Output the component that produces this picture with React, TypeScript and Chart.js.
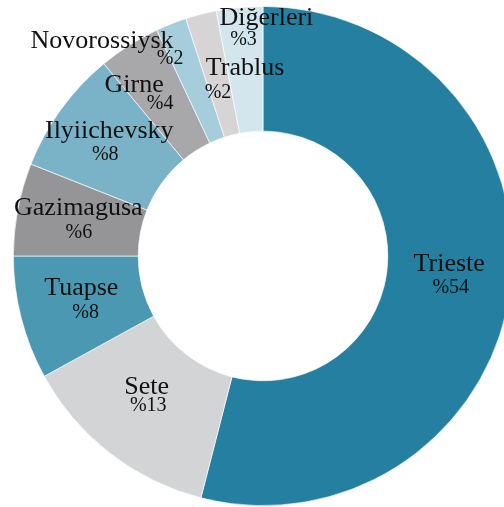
import React, { useEffect, useRef } from "react";
import { Chart, registerables } from "chart.js";

Chart.register(...registerables);

const categories = ["Trieste", "Sete", "Tuapse", "Gazimagusa", "Ilyiichevsky", "Girne", "Novorossiysk", "Trablus", "Diğerleri"];
const shares = [54, 13, 8, 6, 8, 4, 2, 2, 3];
const percentLabels = ["%54", "%13", "%8", "%6", "%8", "%4", "%2", "%2", "%3"];
const sliceColors = ["#257fa0", "#d3d4d6", "#4b98b3", "#959598", "#7ab3c8", "#a8a8ab", "#a6cddc", "#d6d4d5", "#d3e6ee"];

// label nudges (px) relative to each arc's mid-point: [nameDx, nameDy, pctDx, pctDy]
const labelNudges: number[][] = [
  [0.5, -8.8, 2, 13.5],
  [-1.6, -10.2, 0, 7.5],
  [-0.4, -7.6, 4, 15.4],
  [-0.8, -5.9, -0.3, 17.1],
  [-2.3, -7.8, -6.3, 14.2],
  [-28.5, -5.7, -2.5, 11.3],
  [-92, -33.7, -24, -17.7],
  [28.6, 0.6, 1.6, 23.6],
  [21, -44.3, -1.9, -24.3],
];

const labelPlugin = {
  id: "sliceLabels",
  afterDatasetsDraw(chart: any) {
    const ctx = chart.ctx;
    const meta = chart.getDatasetMeta(0);
    ctx.save();
    ctx.fillStyle = "#111111";
    ctx.textAlign = "center";
    ctx.textBaseline = "alphabetic";
    meta.data.forEach((arc: any, i: number) => {
      const p = arc.getProps(["x", "y", "startAngle", "endAngle", "innerRadius", "outerRadius"], true);
      const mid = (p.startAngle + p.endAngle) / 2;
      const r = (p.innerRadius + p.outerRadius) / 2;
      const ax = p.x + Math.cos(mid) * r;
      const ay = p.y + Math.sin(mid) * r;
      const n = labelNudges[i];
      ctx.font = "26px 'Liberation Serif', serif";
      ctx.fillText(categories[i], ax + n[0], ay + n[1]);
      ctx.font = "20px 'Liberation Serif', serif";
      ctx.fillText(percentLabels[i], ax + n[2], ay + n[3]);
    });
    ctx.restore();
  },
};

export default function App() {
  const ref = useRef<HTMLCanvasElement | null>(null);
  useEffect(() => {
    if (!ref.current) return;
    const chart = new Chart(ref.current, {
      type: "doughnut",
      data: {
        labels: categories,
        datasets: [
          {
            data: shares,
            backgroundColor: sliceColors,
            borderColor: "rgba(255,255,255,0.85)",
            borderWidth: 0.75,
          },
        ],
      },
      options: {
        responsive: false,
        animation: false,
        cutout: "50%",
        layout: { padding: 0 },
        plugins: { legend: { display: false }, tooltip: { enabled: false } },
      },
      plugins: [labelPlugin],
    });
    return () => chart.destroy();
  }, []);
  return (
    <div style={{ position: "fixed", left: 0, top: 0, width: 504, height: 507, overflow: "hidden", background: "#ffffff" }}>
      <canvas ref={ref} width={500} height={500} style={{ position: "absolute", left: 13, top: 6, width: 500, height: 500 }} />
    </div>
  );
}
